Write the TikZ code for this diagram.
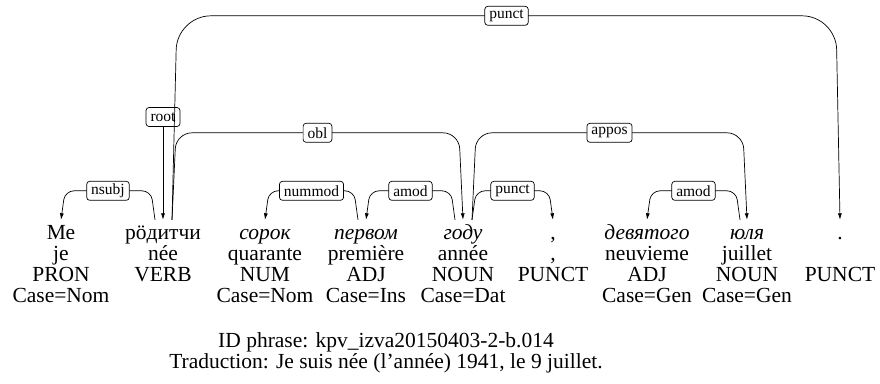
\documentclass[tikz,border=0pt]{standalone}
\usepackage{fontspec}
\setmainfont{Liberation Serif}
\usetikzlibrary{calc,arrows.meta}
\tikzset{>={Latex[length=6.5pt,width=4pt]}}
\tikzset{
  word/.style={anchor=base, inner xsep=0pt, inner ysep=4pt, text height=15pt, text depth=5pt,
    font=\fontsize{21.5}{21.5}\selectfont},
  gloss/.style={anchor=base, inner sep=0pt, font=\fontsize{21.5}{21.5}\selectfont},
  lab/.style={draw, fill=white, rounded corners=3pt, inner xsep=4.5pt, inner ysep=0pt,
    minimum height=19pt, line width=0.7pt, font=\fontsize{15.5}{15.5}\selectfont},
  dep/.style={->, line width=0.7pt},
}

\begin{document}
\begin{tikzpicture}[x=1pt,y=-1pt]
        \useasboundingbox (0,0) rectangle (880,383);

        \foreach \n/\x/\a/\b/\c/\d in {1/61/Ме/je/PRON/Case=Nom,
            2/163/рӧдитчи/née/VERB/{},
            3/265/\textit{сорок}/quarante/NUM/Case=Nom,
            4/366/\textit{первом}/première/ADJ/Case=Ins,
            5/463/\textit{году}/année/NOUN/Case=Dat,
            6/553/{,}/{,}/PUNCT/{},
            7/647/\textit{девятого}/neuvieme/ADJ/Case=Gen,
            8/747/\textit{юля}/juillet/NOUN/Case=Gen,
            9/840/./{}/PUNCT/{}}
        {
            \node[word] (w\n) at (\x,239) {\a};
            \node[gloss] (g\n) at (\x,260) {\b};
            \node[gloss] (p\n) at (\x,281) {\c};
            \node[gloss] (f\n) at (\x,302) {\d};
        }

        \node[lab] (root) at (163,117) {root};
        \draw[dep] (root) -- (w2.north);

        \draw[dep, rounded corners=9pt] ($(w2.north)+(-8,0)$) -- ++(-4,-29)
            -- node[lab] (nsubj) {nsubj} ($(w1.north)+(4,-29)$) -- (w1.north);
        \draw[dep, rounded corners=16pt] ($(w2.north)+(9,0)$) -- ++(4,-87)
            -- node[lab] (obl) {obl} ($(w5.north)+(-4,-87)$) -- (w5.north);
        \draw[dep, rounded corners=34pt] ($(w2.north)+(9,0)$) -- ++(5,-204)
            -- node[lab] (punct1) {punct} ($(w9.north)+(-4,-204)$) -- (w9.north);
        \draw[dep, rounded corners=9pt] ($(w4.north)+(-8,0)$) -- ++(-4,-29)
            -- node[lab] (nummod) {nummod} ($(w3.north)+(4,-29)$) -- (w3.north);
        \draw[dep, rounded corners=9pt] ($(w5.north)+(-8,0)$) -- ++(-4,-29)
            -- node[lab] (amod1) {amod} ($(w4.north)+(4,-29)$) -- (w4.north);
        \draw[dep, rounded corners=9pt] ($(w5.north)+(9,0)$) -- ++(4,-29)
            -- node[lab] (punct2) {punct} ($(w6.north)+(-4,-29)$) -- (w6.north);
        \draw[dep, rounded corners=16pt] ($(w5.north)+(9,0)$) -- ++(4,-87)
            -- node[lab] (appos) {appos} ($(w8.north)+(-4,-87)$) -- (w8.north);
        \draw[dep, rounded corners=9pt] ($(w8.north)+(-7,0)$) -- ++(-4,-29)
            -- node[lab] (amod2) {amod} ($(w7.north)+(4,-29)$) -- (w7.north);

        \node[gloss] (idph) at (386,347) {ID phrase: kpv\_izva20150403-2-b.014};
        \node[gloss] (trad) at (386,368) {Traduction: Je suis née (l’année) 1941, le 9 juillet.};
    \end{tikzpicture}
\end{document}
